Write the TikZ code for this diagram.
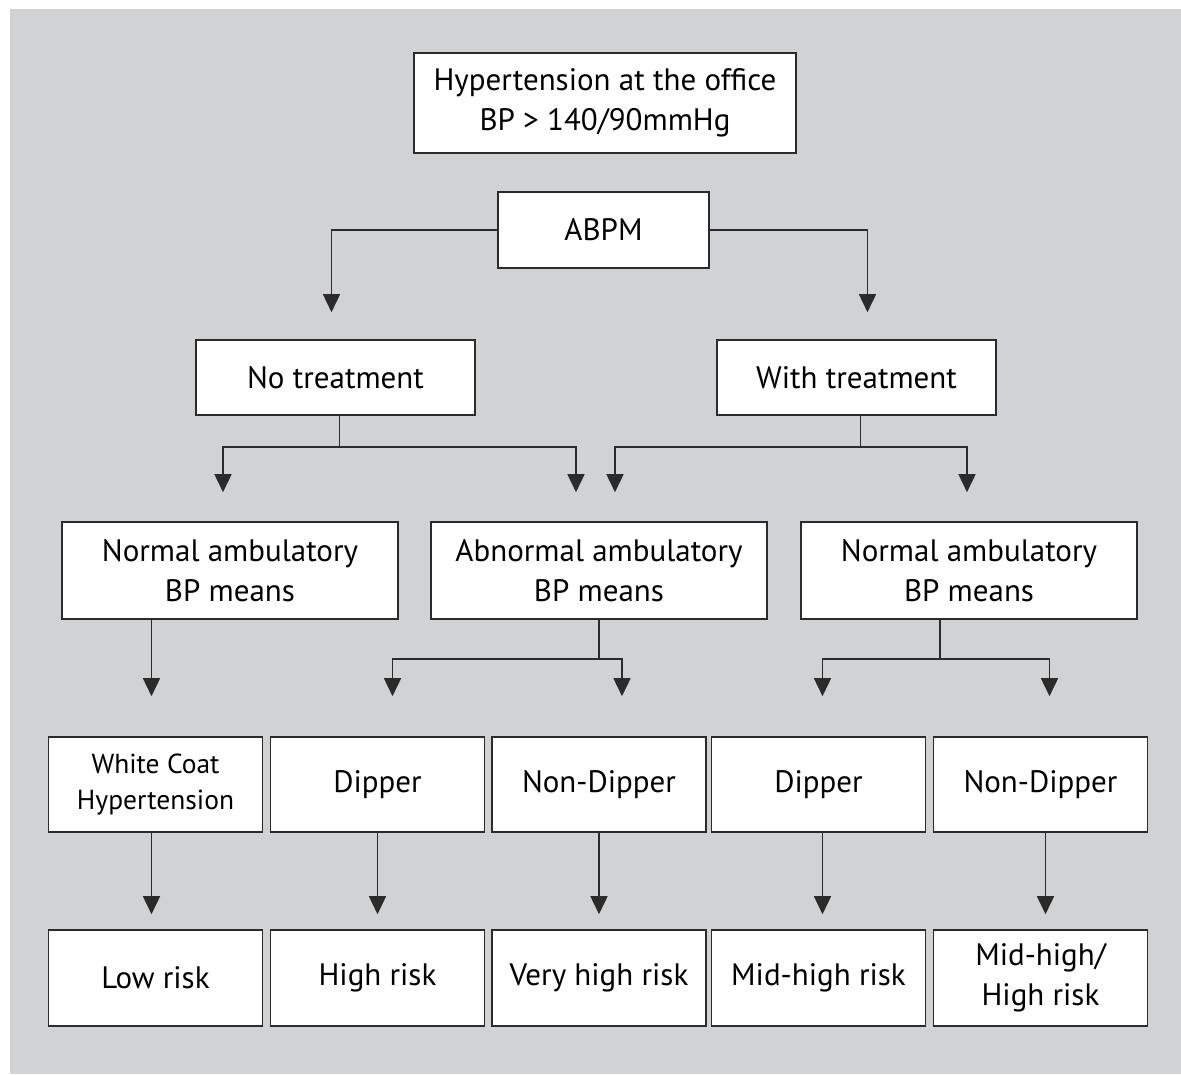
\documentclass[tikz,border=0pt]{standalone}
\usepackage{fontspec}
\setmainfont{PT Sans}
\usetikzlibrary{arrows.meta,positioning}
\definecolor{panelgray}{HTML}{D1D2D4}
\definecolor{linegray}{HTML}{2B2B2B}
\tikzset{
    %Define standard arrow tip
    >={Triangle[length=18pt,width=17pt]},
    %Define style for boxes
    stepbox/.style={
           rectangle,
           draw=linegray, line width=1.6pt,
           fill=white,
           inner sep=0pt,
           align=center,
           font=\fontsize{31}{40}\selectfont},
    treatbox/.style={
           stepbox,
           minimum width=279pt,
           minimum height=75pt},
    meanbox/.style={
           stepbox,
           minimum width=336pt,
           minimum height=97pt},
    dipbox/.style={
           stepbox,
           minimum width=214pt,
           minimum height=95pt},
    % Define arrow style
    pil/.style={
           ->,
           draw=linegray,
           line width=1.6pt},
    link/.style={
           draw=linegray,
           line width=1.6pt}
}
\begin{document}
\begin{tikzpicture}[x=1pt,y=-1pt]
\useasboundingbox (0,0) rectangle (1181,1074);
\fill[panelgray] (10,9) rectangle (1181,1074);
% top of the chart
\node[stepbox, minimum width=382pt, minimum height=100pt] (office) at (605,103)
    {Hypertension at the office\\BP > 140/90mmHg};
\node[stepbox, minimum width=211pt, minimum height=76pt] (abpm) at (603.5,230) {ABPM};
\node[treatbox] (notreat) at (335.5,377.5) {No treatment};
\node[treatbox] (withtreat) at (856.5,377.5) {With treatment};
% ambulatory means
\node[meanbox] (normL) at (230,570.5) {Normal ambulatory\\BP means};
\node[meanbox] (abnorm) at (599,570.5) {Abnormal ambulatory\\BP means};
\node[meanbox] (normR) at (969,570.5) {Normal ambulatory\\BP means};
% dipping pattern
\node[dipbox, font=\fontsize{27.5}{36}\selectfont] (wcoat) at (155.5,784.5) {White Coat\\Hypertension};
\node[dipbox] (dipA) at (377.5,784.5) {Dipper};
\node[dipbox] (nondipA) at (599,784.5) {Non-Dipper};
\node[dipbox] (dipB) at (818.5,784.5) {Dipper};
\node[dipbox] (nondipB) at (1040.5,784.5) {Non-Dipper};
% risk
\node[dipbox, minimum height=96pt] (low) at (155.5,978) {Low risk};
\node[dipbox, minimum height=96pt] (high) at (377.5,978) {High risk};
\node[dipbox, minimum height=96pt] (vhigh) at (599,978) {Very high risk};
\node[dipbox, minimum height=96pt] (midhigh) at (818.5,978) {Mid-high risk};
\node[dipbox, minimum height=96pt] (midhh) at (1040.5,978) {Mid-high/\\High risk};
% connectors
\draw[pil, shorten >=27pt] (abpm.west) -| ([xshift=-4pt]notreat.north);
\draw[pil, shorten >=27pt] (abpm.east) -| ([xshift=11pt]withtreat.north);
\draw[link] ([xshift=4pt]notreat.south) -- ++(0,31) coordinate (nt);
\draw[pil, shorten >=29pt] (nt) -| ([xshift=-7pt]normL.north);
\draw[pil, shorten >=29pt] (nt) -| ([xshift=-23pt]abnorm.north);
\draw[link] ([xshift=4pt]withtreat.south) -- ++(0,31) coordinate (wt);
\draw[pil, shorten >=29pt] (wt) -| ([xshift=16pt]abnorm.north);
\draw[pil, shorten >=29pt] (wt) -| ([xshift=-2pt]normR.north);
\draw[pil, shorten >=40pt] ([xshift=-4pt]normL.south -| wcoat.north) -- ([xshift=-4pt]wcoat.north);
\draw[link] (abnorm.south) -- ++(0,39) coordinate (ab);
\draw[pil, shorten >=40pt] (ab) -| ([xshift=15pt]dipA.north);
\draw[pil, shorten >=40pt] (ab) -| ([xshift=23pt]nondipA.north);
\draw[link] ([xshift=-29pt]normR.south) -- ++(0,39) coordinate (nr);
\draw[pil, shorten >=40pt] (nr) -| ([xshift=4pt]dipB.north);
\draw[pil, shorten >=40pt] (nr) -| ([xshift=9pt]nondipB.north);
\draw[pil, shorten >=15pt] ([xshift=-4pt]wcoat.south) -- ([xshift=-4pt]low.north);
\draw[pil, shorten >=15pt] (dipA.south) -- (high.north);
\draw[pil, shorten >=15pt] (nondipA.south) -- (vhigh.north);
\draw[pil, shorten >=15pt] ([xshift=4pt]dipB.south) -- ([xshift=4pt]midhigh.north);
\draw[pil, shorten >=15pt] ([xshift=5pt]nondipB.south) -- ([xshift=5pt]midhh.north);
\end{tikzpicture}
\end{document}
